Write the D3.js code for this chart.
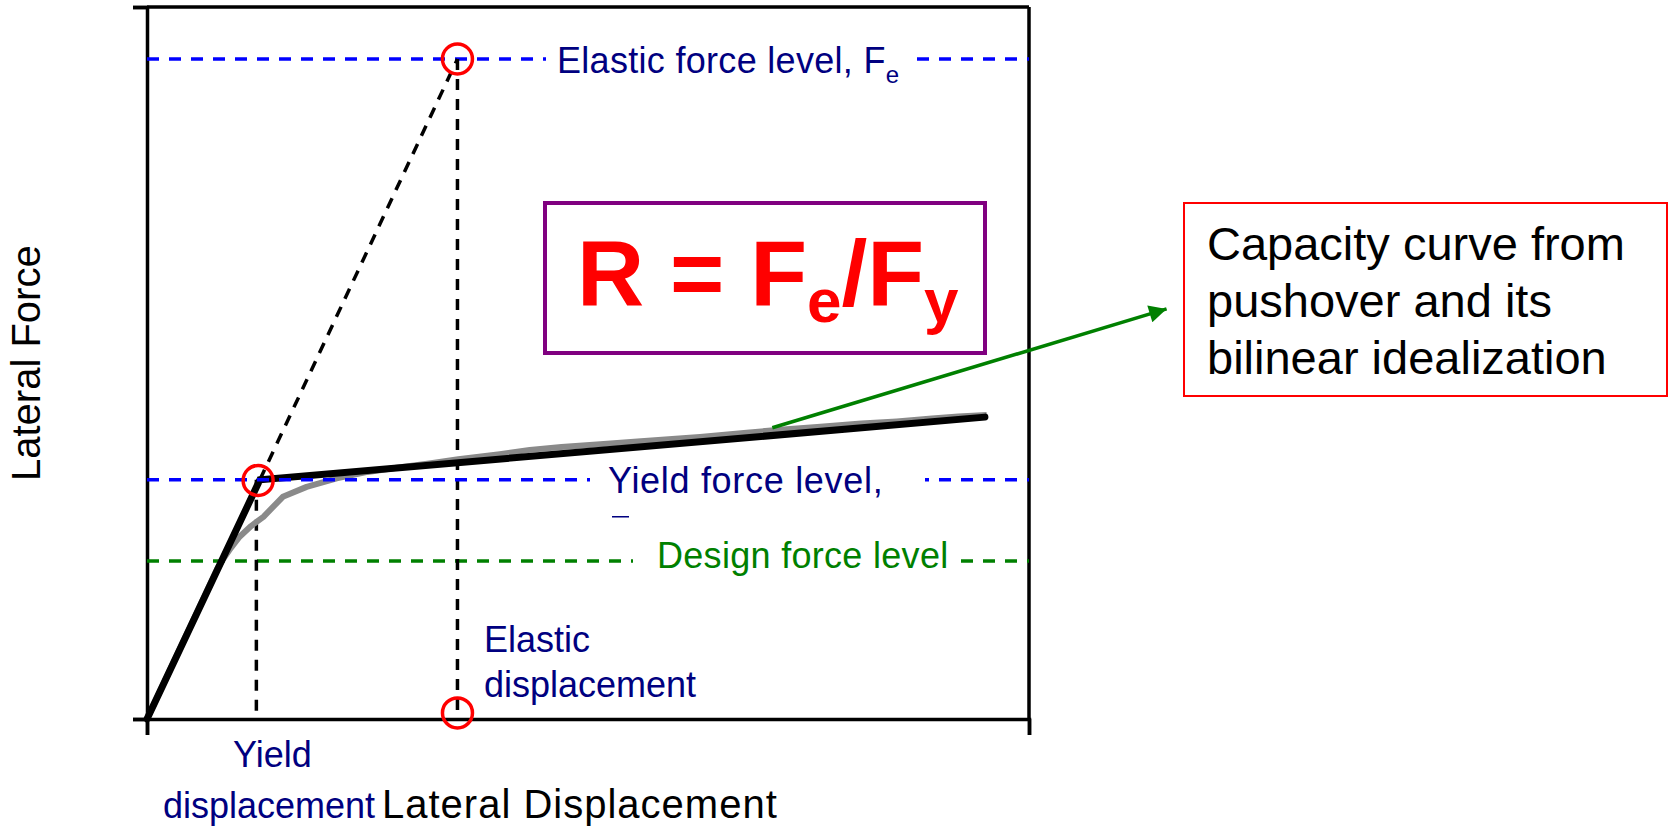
<!DOCTYPE html>
<html>
<head>
<meta charset="utf-8">
<script src="https://cdn.jsdelivr.net/npm/d3@7"></script>
<style>
  html, body { margin: 0; padding: 0; background: #fff; }
  svg { display: block; }
  text { font-family: "Liberation Sans", Arial, Helvetica, sans-serif; }
</style>
</head>
<body>
<svg id="chart" width="1670" height="829"></svg>
<script>
// ---------------- data ----------------
const xDomain = [0, 100];
const yDomain = [0, 100];

const elasticForce = 92.7;   // Fe
const yieldForce = 33.6;     // Fy
const designForce = 22.2;    // design level
const yieldDisp = 12.4;
const elasticDisp = 35.2;

// bilinear idealization
const bilinearX = [0, 12.8, 95.0];
const bilinearY = [0, 33.6, 42.4];

// pushover capacity curve
const pushoverX = [0, 4, 8, 8.6, 9.5, 10.5, 11.8, 13.2, 15.4, 18.1, 21.5, 25, 28.3, 32, 35.3, 40, 43.4, 47, 51.4, 56, 62.7, 68, 71.4, 76, 81, 85, 89, 92, 95.2];
const pushoverY = [0, 10.6, 21.2, 22.4, 24.0, 25.6, 27.1, 28.4, 31.2, 32.6, 33.8, 34.7, 35.3, 35.9, 36.5, 37.2, 37.8, 38.2, 38.6, 39.0, 39.6, 40.2, 40.6, 41.0, 41.5, 41.8, 42.2, 42.5, 42.7];

// annotation arrow (data coords, tip outside plot)
const arrowFrom = [70.9, 40.9];
const arrowTo = [115.6, 57.6];

// labels
const yAxisTitle = "Lateral Force";
const xAxisTitle = "Lateral Displacement";
const capacityLines = ["Capacity curve from", "pushover and its", "bilinear idealization"];

// ---------------- drawing ----------------
const svg = d3.select("#chart");
const x = d3.scaleLinear().domain(xDomain).range([147, 1029]);
const y = d3.scaleLinear().domain(yDomain).range([719, 7]);

const NAVY = "#000080", BLUE = "#0000ff", GREEN = "#008000", RED = "#ff0000";
const LW = 3.5;

// frame (top/right)
svg.append("line").attr("x1", x(0)).attr("x2", x(100)).attr("y1", y(100)).attr("y2", y(100))
  .attr("stroke", "#000").attr("stroke-width", LW);
svg.append("line").attr("x1", x(100)).attr("x2", x(100)).attr("y1", y(100)).attr("y2", y(0))
  .attr("stroke", "#000").attr("stroke-width", LW);

// axes with tick marks at ends only
const gx = svg.append("g").attr("transform", `translate(0,${y(0)})`)
  .call(d3.axisBottom(x).tickValues([0, 100]).tickSize(16).tickFormat(""));
const gy = svg.append("g").attr("transform", `translate(${x(0)},0)`)
  .call(d3.axisLeft(y).tickValues([0, 100]).tickSize(14).tickFormat(""));
[gx, gy].forEach(g => {
  g.selectAll("path.domain").attr("stroke", "#000").attr("stroke-width", LW);
  g.selectAll(".tick line").attr("stroke", "#000").attr("stroke-width", LW);
});

// horizontal force levels
function hLevel(val, color) {
  svg.append("line").attr("x1", x(0)).attr("x2", x(100)).attr("y1", y(val)).attr("y2", y(val))
    .attr("stroke", color).attr("stroke-width", LW).attr("stroke-dasharray", "12,10");
}
function gap(x1, x2, val) {
  svg.append("rect").attr("x", x1).attr("width", x2 - x1).attr("y", y(val) - 4).attr("height", 8).attr("fill", "#fff");
}
hLevel(elasticForce, BLUE);
gap(546, 914, elasticForce);
hLevel(designForce, GREEN);
gap(633, 957, designForce);

// vertical dashed lines
function vDash(xv, y1, y2) {
  svg.append("line").attr("x1", x(xv)).attr("x2", x(xv)).attr("y1", y(y1)).attr("y2", y(y2))
    .attr("stroke", "#000").attr("stroke-width", LW).attr("stroke-dasharray", "11,9");
}
vDash(yieldDisp, yieldForce, 0);
vDash(elasticDisp, elasticForce, 0);

// elastic extension (dashed diagonal)
svg.append("line")
  .attr("x1", x(bilinearX[1])).attr("y1", y(bilinearY[1]))
  .attr("x2", x(elasticDisp)).attr("y2", y(elasticForce))
  .attr("stroke", "#000").attr("stroke-width", LW).attr("stroke-dasharray", "11,9");

const line = d3.line().x(d => x(d[0])).y(d => y(d[1]));

// pushover curve
svg.append("path").datum(pushoverX.map((v, i) => [v, pushoverY[i]]))
  .attr("d", line).attr("fill", "none").attr("stroke", "#8a8a8a").attr("stroke-width", 6)
  .attr("stroke-linejoin", "round");

// bilinear
svg.append("path").datum(bilinearX.map((v, i) => [v, bilinearY[i]]))
  .attr("d", line).attr("fill", "none").attr("stroke", "#000").attr("stroke-width", 7)
  .attr("stroke-linejoin", "miter").attr("stroke-linecap", "round");

// yield level drawn above curves
hLevel(yieldForce, BLUE);
gap(590, 925, yieldForce);

// red circles
[[bilinearX[1] - 0.2, yieldForce - 0.1], [elasticDisp, elasticForce], [elasticDisp, 0.85]].forEach(p => {
  svg.append("circle").attr("cx", x(p[0])).attr("cy", y(p[1])).attr("r", 15)
    .attr("fill", "none").attr("stroke", RED).attr("stroke-width", 3.5);
});

// level labels
const fe = svg.append("text").attr("x", 557).attr("y", y(elasticForce) + 14)
  .attr("font-size", 36).attr("fill", NAVY).attr("letter-spacing", 0.3);
fe.append("tspan").text("Elastic force level, F");
fe.append("tspan").attr("font-size", 24).attr("dy", 10).text("e");

svg.append("text").attr("x", 608).attr("y", y(yieldForce) + 13)
  .attr("font-size", 36).attr("fill", NAVY).attr("letter-spacing", 0.7).text("Yield force level,");
svg.append("line").attr("x1", 612).attr("x2", 629).attr("y1", y(yieldForce) + 37).attr("y2", y(yieldForce) + 37)
  .attr("stroke", NAVY).attr("stroke-width", 1.5);

svg.append("text").attr("x", 657).attr("y", y(designForce) + 7)
  .attr("font-size", 36).attr("fill", GREEN).attr("letter-spacing", 0.3).text("Design force level");

// displacement labels
svg.append("text").attr("x", 484).attr("y", 652).attr("font-size", 36).attr("fill", NAVY).text("Elastic");
svg.append("text").attr("x", 484).attr("y", 697).attr("font-size", 36).attr("fill", NAVY).text("displacement");
svg.append("text").attr("x", 233).attr("y", 767).attr("font-size", 36).attr("fill", NAVY).text("Yield");
svg.append("text").attr("x", 163).attr("y", 818).attr("font-size", 36).attr("fill", NAVY).text("displacement");

// axis titles
svg.append("text").attr("x", 382).attr("y", 818).attr("font-size", 40).attr("fill", "#000")
  .attr("letter-spacing", 1).text(xAxisTitle);
svg.append("text").attr("transform", "translate(40,481) rotate(-90)")
  .attr("font-size", 40).attr("fill", "#000").text(yAxisTitle);

// R = Fe/Fy box
svg.append("rect").attr("x", 545).attr("y", 203).attr("width", 440).attr("height", 150)
  .attr("fill", "#fff").attr("stroke", "#800080").attr("stroke-width", 4);
const r = svg.append("text").attr("x", 577).attr("y", 305).attr("font-size", 93)
  .attr("font-weight", "bold").attr("fill", RED);
r.append("tspan").text("R = F");
r.append("tspan").attr("font-size", 62).attr("dy", 17).text("e");
r.append("tspan").attr("dy", -17).text("/F");
r.append("tspan").attr("font-size", 62).attr("dy", 17).text("y");

// capacity note box
svg.append("rect").attr("x", 1184).attr("y", 203).attr("width", 483).attr("height", 193)
  .attr("fill", "#fff").attr("stroke", RED).attr("stroke-width", 2);
capacityLines.forEach((t, i) => {
  svg.append("text").attr("x", 1207).attr("y", 260 + i * 57).attr("font-size", 47).attr("fill", "#000").text(t);
});

// green arrow
svg.append("defs").append("marker").attr("id", "ah").attr("viewBox", "0 0 10 10")
  .attr("refX", 10).attr("refY", 5).attr("markerWidth", 6).attr("markerHeight", 5)
  .attr("orient", "auto").attr("markerUnits", "strokeWidth")
  .append("path").attr("d", "M0,0 L10,5 L0,10 Z").attr("fill", GREEN);
svg.append("line")
  .attr("x1", x(arrowFrom[0])).attr("y1", y(arrowFrom[1]))
  .attr("x2", x(arrowTo[0])).attr("y2", y(arrowTo[1]))
  .attr("stroke", GREEN).attr("stroke-width", 3.5).attr("marker-end", "url(#ah)");
</script>
</body>
</html>
